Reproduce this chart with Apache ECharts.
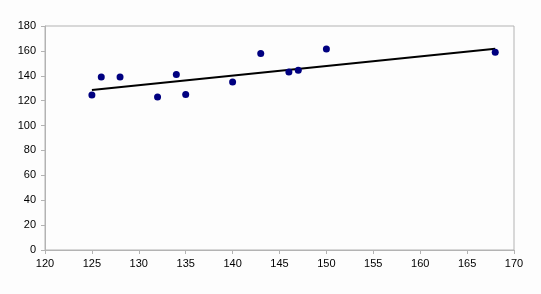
<!DOCTYPE html>
<html>
<head>
<meta charset="utf-8">
<script src="https://cdn.jsdelivr.net/npm/echarts@6/dist/echarts.min.js"></script>
<style>
html,body{margin:0;padding:0;background:#fdfdfd;}
#c{width:541px;height:294px;}
</style>
</head>
<body>
<div id="c"></div>
<script>
var xValues = [125, 126, 128, 132, 134, 135, 140, 143, 146, 147, 150, 168];
var yValues = [124.5, 139, 139, 123, 141, 125, 135, 158, 143, 144.5, 161.5, 159];
var trendX = [125, 168];
var trendY = [128.6, 161.8];

var points = xValues.map(function (x, i) { return [x, yValues[i]]; });
var trend = trendX.map(function (x, i) { return [x, trendY[i]]; });

var chart = echarts.init(document.getElementById('c'), null, {renderer: 'canvas'});
var axisFont = {color: '#000', fontFamily: 'Liberation Sans, Arial, sans-serif', fontSize: 11};
chart.setOption({
  backgroundColor: '#fdfdfd',
  animation: false,
  grid: {left: 45, right: 27, top: 26, bottom: 44, show: true, borderColor: '#b3b3b3', borderWidth: 1, backgroundColor: 'transparent'},
  xAxis: {
    type: 'value', min: 120, max: 170, interval: 5,
    axisLine: {show: true, lineStyle: {color: '#b3b3b3'}},
    axisTick: {show: true, length: 4, lineStyle: {color: '#b3b3b3'}},
    splitLine: {show: false},
    axisLabel: Object.assign({margin: 8}, axisFont)
  },
  yAxis: {
    type: 'value', min: 0, max: 180, interval: 20,
    axisLine: {show: true, lineStyle: {color: '#b3b3b3'}},
    axisTick: {show: true, length: 4, lineStyle: {color: '#b3b3b3'}},
    splitLine: {show: false},
    axisLabel: Object.assign({margin: 9}, axisFont)
  },
  series: [
    {
      type: 'line', data: trend, symbol: 'none',
      lineStyle: {color: '#000', width: 2}, z: 2
    },
    {
      type: 'scatter', data: points, symbol: 'circle', symbolSize: 7,
      itemStyle: {color: '#000080', opacity: 1}, z: 3
    }
  ]
});
</script>
</body>
</html>
